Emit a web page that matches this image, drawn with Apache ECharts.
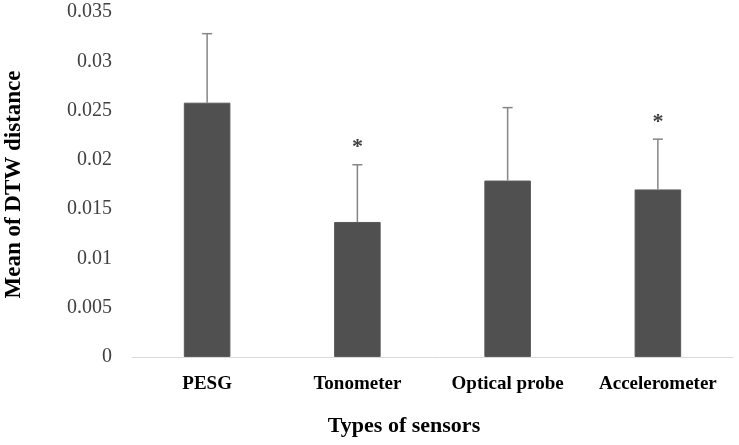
<!DOCTYPE html>
<html>
<head>
<meta charset="utf-8">
<script src="https://cdn.jsdelivr.net/npm/echarts@6/dist/echarts.min.js"></script>
<style>
  html, body { margin: 0; padding: 0; background: #fff; }
  #chart { width: 739px; height: 445px; }
</style>
</head>
<body>
<div id="chart"></div>
<script>
// 数据
const sensors = ['PESG', 'Tonometer', 'Optical probe', 'Accelerometer']
const meanDtw = [0.0258, 0.0137, 0.0179, 0.0170]
const errUpper = [0.0328, 0.0195, 0.0253, 0.0221]
const marks = ['', '*', '', '*']

const serif = 'Liberation Serif'

const chart = echarts.init(document.getElementById('chart'))

chart.setOption({
  animation: false,
  title: {
    text: 'Types of sensors',
    left: 399,
    top: 410,
    textAlign: 'center',
    textStyle: { fontFamily: serif, fontSize: 22, fontWeight: 'bold', color: '#000' }
  },
  grid: { left: 132, right: 6, top: 12, bottom: 88, outerBoundsMode: 'none', containLabel: false },
  xAxis: {
    type: 'category',
    data: sensors,
    axisLine: { lineStyle: { color: '#d9d9d9', width: 1 } },
    axisTick: { show: false },
    axisLabel: {
      interval: 0,
      hideOverlap: false,
      margin: 18,
      fontFamily: serif, fontSize: 19, fontWeight: 'bold', color: '#000'
    }
  },
  yAxis: {
    type: 'value',
    min: 0,
    max: 0.035,
    interval: 0.005,
    name: 'Mean of DTW distance',
    nameLocation: 'middle',
    nameGap: 106,
    nameTextStyle: { fontFamily: serif, fontSize: 23, fontWeight: 'bold', color: '#000' },
    splitLine: { show: false },
    axisLine: { show: false },
    axisTick: { show: false },
    axisLabel: {
      margin: 20,
      fontFamily: serif, fontSize: 20, color: '#404040',
      formatter: v => String(+v.toFixed(3))
    }
  },
  series: [
    {
      type: 'bar',
      data: meanDtw,
      barWidth: '31%',
      itemStyle: { color: '#505050', borderColor: '#5a5a5a', borderWidth: 1 }
    },
    {
      type: 'custom',
      z: 3,
      data: sensors.map((s, i) => [i, meanDtw[i], errUpper[i]]),
      renderItem: (params, api) => {
        const base = api.coord([api.value(0), api.value(1)])
        const top = api.coord([api.value(0), api.value(2)])
        const i = params.dataIndex
        const lineStyle = { stroke: '#858585', lineWidth: 1.5 }
        const children = [
          { type: 'line', shape: { x1: base[0], y1: base[1], x2: top[0], y2: top[1] }, style: lineStyle },
          { type: 'line', shape: { x1: top[0] - 5, y1: top[1], x2: top[0] + 5, y2: top[1] }, style: lineStyle }
        ]
        if (marks[i]) {
          children.push({
            type: 'text',
            style: {
              text: marks[i], x: top[0], y: top[1] - 6,
              textAlign: 'center', textVerticalAlign: 'bottom',
              font: 'bold 22px "Liberation Serif"', fill: '#404040'
            }
          })
        }
        return { type: 'group', children }
      }
    }
  ]
})
</script>
</body>
</html>
